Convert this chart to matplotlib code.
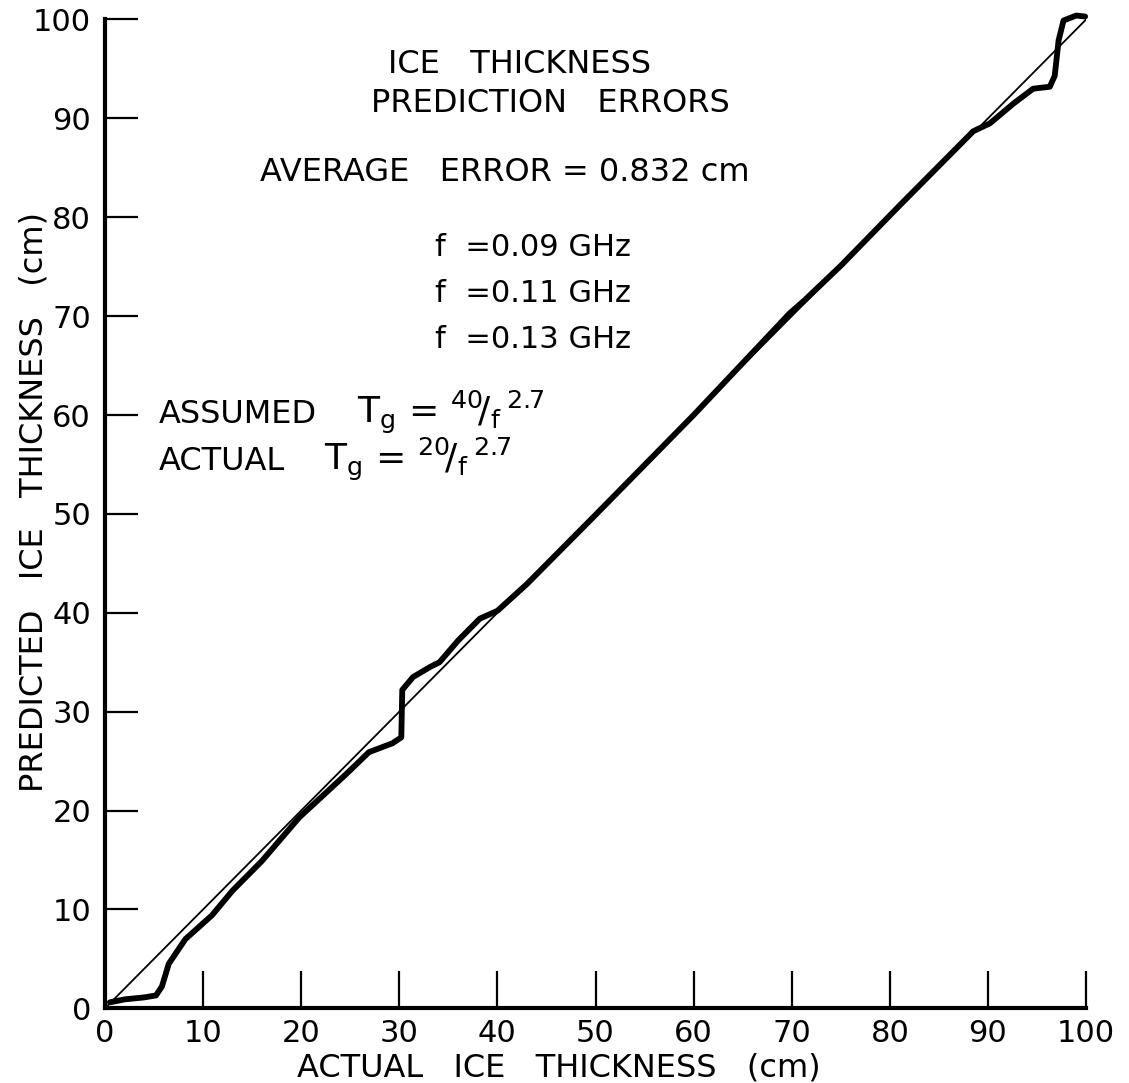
import matplotlib
matplotlib.use("Agg")
import matplotlib.pyplot as plt

# values (cm)
actual = [0.5, 2.0, 4.0, 5.2, 5.8, 6.5, 8.2, 10.9, 13.0, 16.0, 19.8, 24.6,
          26.9, 29.3, 30.2, 30.3, 31.4, 33.1, 34.1, 36.0, 38.2, 40.0, 43.0,
          50.0, 60.0, 69.8, 71.3, 75.0, 81.0, 88.5, 90.2, 92.6, 94.6, 96.3,
          96.8, 97.2, 97.7, 99.0, 99.9]
predicted = [0.6, 0.9, 1.1, 1.3, 2.2, 4.5, 7.0, 9.4, 11.9, 14.9, 19.3, 23.7,
             25.9, 26.8, 27.4, 32.2, 33.5, 34.5, 35.0, 37.2, 39.4, 40.2, 42.9,
             49.9, 60.0, 70.3, 71.6, 75.1, 81.2, 88.7, 89.5, 91.5, 93.0, 93.2,
             94.3, 97.9, 99.9, 100.4, 100.3]
ideal = [0, 100]
ticks = list(range(0, 101, 10))
freqs = ["0.09", "0.11", "0.13"]

plt.rcParams["font.family"] = ["DejaVu Sans"]
plt.rcParams["mathtext.fontset"] = "dejavusans"

fig = plt.figure(figsize=(11.29, 10.83), dpi=100)
ax = fig.add_axes([0.093, 0.069, 0.869, 0.913])

ax.plot(ideal, ideal, color="black", lw=1.3)
ax.plot(actual, predicted, color="black", lw=4.2, clip_on=False,
        solid_joinstyle="round", solid_capstyle="round")

ax.set_xlim(0, 100)
ax.set_ylim(0, 100)
for side in ("top", "right"):
    ax.spines[side].set_visible(False)
for side in ("left", "bottom"):
    ax.spines[side].set_linewidth(3)
ax.set_xticks(ticks)
ax.set_yticks(ticks)
ax.tick_params(axis="x", direction="in", length=27, width=1.6,
               labelsize=22, pad=8)
ax.tick_params(axis="y", direction="in", length=24, width=1.6,
               labelsize=22, pad=10)

ax.set_xlabel("ACTUAL   ICE   THICKNESS   (cm)", fontsize=23)
ax.set_ylabel("PREDICTED   ICE   THICKNESS   (cm)", fontsize=23)
ax.xaxis.set_label_coords(0.463, -0.045)
ax.yaxis.set_label_coords(-0.057, 0.512)

tx = dict(fontsize=23, color="black", va="baseline")
ax.text(42.2, 94.6, "ICE   THICKNESS", ha="center", **tx)
ax.text(45.4, 90.6, "PREDICTION   ERRORS", ha="center", **tx)
ax.text(40.8, 83.7, "AVERAGE   ERROR = 0.832 cm", ha="center", **tx)
for f_val, base in zip(freqs, [76.1, 71.4, 66.8]):
    ax.text(33.6, base, f"f  ={f_val} GHz", ha="left", fontsize=22,
            va="baseline")

formula = r"T$_\mathregular{g}$ = $\mathregular{^{%s}\!/_{f}\,^{2.7}}$"
ax.text(5.5, 59.2, "ASSUMED", ha="left", **tx)
ax.text(25.7, 59.2, formula % "40", ha="left", fontsize=26, va="baseline")
ax.text(5.5, 54.4, "ACTUAL", ha="left", **tx)
ax.text(22.3, 54.4, formula % "20", ha="left", fontsize=26, va="baseline")

fig.savefig("out.png", dpi=100)
